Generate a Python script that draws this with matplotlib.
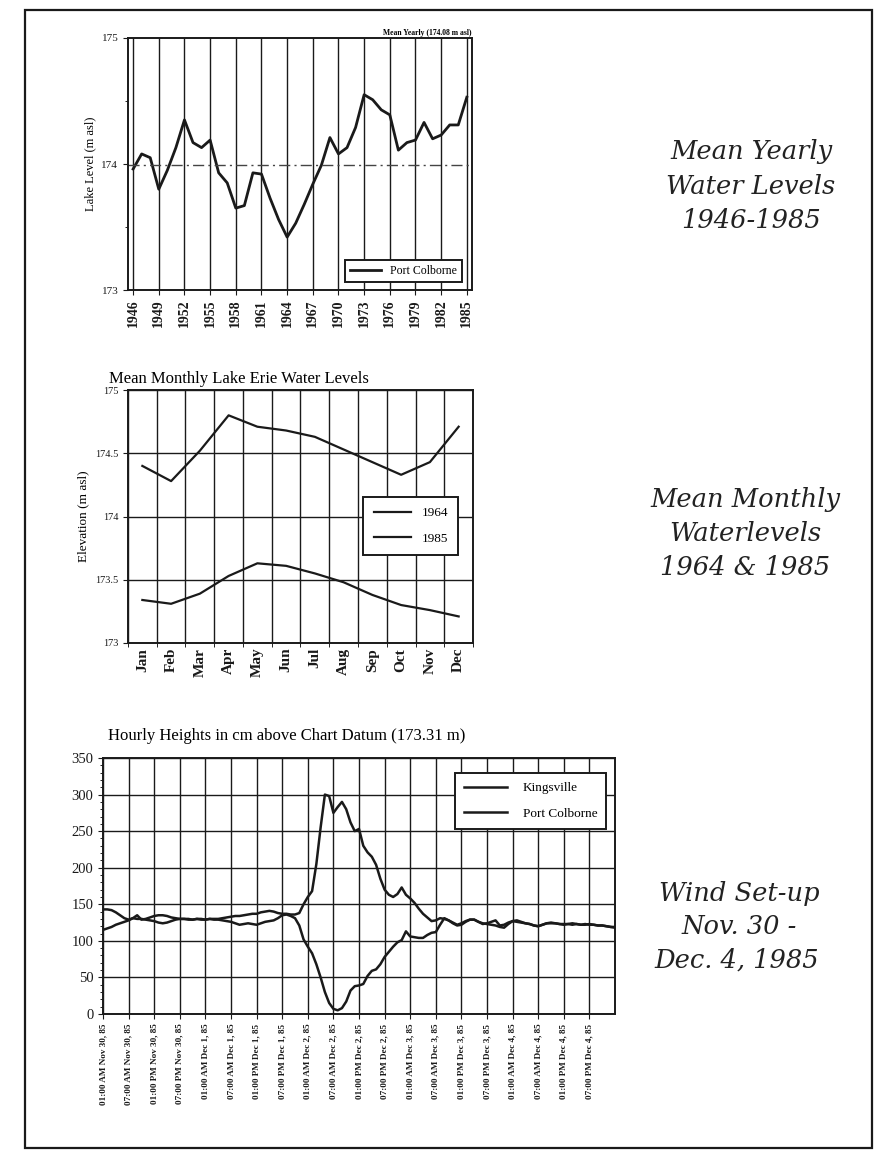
import matplotlib
matplotlib.use("Agg")
import matplotlib.pyplot as plt
from matplotlib.patches import Rectangle

plt.rcParams['font.family'] = ['Liberation Serif', 'DejaVu Serif']

# --- chart 1: mean yearly levels, Port Colborne
years = list(range(1946, 1986))
yearly = [173.96, 174.08, 174.05, 173.80, 173.95, 174.13, 174.35, 174.17, 174.13, 174.19,
          173.93, 173.85, 173.65, 173.67, 173.93, 173.92, 173.73, 173.56, 173.42, 173.53,
          173.68, 173.84, 173.99, 174.21, 174.08, 174.13, 174.29, 174.55, 174.51, 174.43,
          174.39, 174.11, 174.17, 174.19, 174.33, 174.20, 174.23, 174.31, 174.31, 174.53]
yearly_mean = 173.99

# --- chart 2: mean monthly levels
months = ["Jan", "Feb", "Mar", "Apr", "May", "Jun", "Jul", "Aug", "Sep", "Oct", "Nov", "Dec"]
monthly_1964 = [173.34, 173.31, 173.39, 173.53, 173.63, 173.61, 173.55, 173.48, 173.38, 173.30, 173.26, 173.21]
monthly_1985 = [174.40, 174.28, 174.52, 174.80, 174.71, 174.68, 174.63, 174.53, 174.43, 174.33, 174.43, 174.71]

# --- chart 3: hourly heights (cm above chart datum), hour 0 = 01:00 AM Nov 30
port_colborne = [143, 143, 142, 139, 135, 131, 129, 131, 135, 129,
                 130, 132, 134, 135, 135, 134, 132, 131, 130, 130,
                 130, 129, 130, 130, 129, 130, 130, 130, 131, 132,
                 133, 134, 134, 135, 136, 137, 137, 139, 140, 141,
                 140, 138, 137, 137, 136, 136, 138, 150, 160, 168,
                 205, 255, 300, 298, 275, 283, 290, 280, 262, 250,
                 253, 230, 221, 215, 204, 185, 170, 163, 160, 164,
                 173, 163, 158, 152, 144, 137, 132, 127, 128, 131,
                 130, 128, 124, 121, 122, 126, 129, 129, 126, 124,
                 123, 122, 121, 119, 118, 123, 127, 128, 126, 124,
                 123, 121, 120, 122, 124, 124, 124, 123, 123, 123,
                 122, 123, 122, 123, 122, 122, 121, 121, 120, 119, 118]
kingsville = [115, 117, 119, 122, 124, 126, 128, 131, 130, 130,
              129, 128, 127, 125, 124, 125, 127, 129, 130, 130,
              129, 129, 130, 129, 129, 130, 129, 129, 128, 127,
              126, 124, 122, 123, 124, 123, 122, 124, 126, 127,
              128, 131, 135, 136, 134, 131, 121, 102, 92, 83,
              68, 50, 30, 15, 7, 5, 8, 17, 32, 38,
              39, 41, 52, 59, 61, 68, 78, 85, 92, 98,
              101, 113, 106, 105, 104, 104, 108, 111, 112, 122,
              131, 128, 125, 122, 124, 127, 129, 129, 126, 123,
              124, 126, 128, 121, 122, 125, 127, 126, 125, 124,
              123, 121, 120, 122, 124, 125, 124, 123, 122, 123,
              124, 123, 122, 122, 123, 122, 121, 121, 120, 119, 119]
hours = list(range(len(port_colborne)))
days = ["Nov 30", "Dec 1", "Dec 2", "Dec 3", "Dec 4"]
times = ["01:00 AM", "07:00 AM", "01:00 PM", "07:00 PM"]
hour_labels = [t + " " + d + ", 85" for d in days for t in times]

ink = "#1a1a1a"
fig = plt.figure(figsize=(8.82, 11.55), dpi=100)

# page border of the scanned sheet
fig.patches.append(Rectangle((25 / 882, 1 - 1148 / 1155), 847 / 882, 1138 / 1155,
                             transform=fig.transFigure, fill=False, lw=1.6, ec=ink))

# ---------------- chart 1
ax1 = fig.add_axes([0.1451, 0.7489, 0.3900, 0.2182])
ax1.plot(years, yearly, color=ink, lw=2.0, label="Port Colborne")
ax1.axhline(yearly_mean, color="#444444", lw=1.0, ls=(0, (8, 3, 1.5, 3)))
ax1.set_xlim(1945.4, 1985.6)
ax1.set_ylim(173, 175)
ax1.set_xticks(years[::3])
ax1.set_xticklabels([str(y) for y in years[::3]], rotation=90, fontsize=10, fontweight="bold")
ax1.set_yticks([173, 174, 175])
ax1.set_yticklabels(["173", "174", "175"], fontsize=8)
ax1.set_yticks([173.5, 174.5], minor=True)
ax1.tick_params(axis="y", which="minor", length=2)
ax1.grid(axis="x", color=ink, lw=1.0)
ax1.set_ylabel("Lake Level (m asl)", fontsize=9, labelpad=4)
ax1.text(1.0, 1.004, "Mean Yearly (174.08 m asl)", transform=ax1.transAxes,
         ha="right", va="bottom", fontsize=5.5, fontweight="bold")
leg1 = ax1.legend(loc="lower right", bbox_to_anchor=(0.988, 0.01), fontsize=8.5,
                  frameon=True, fancybox=False, edgecolor=ink, framealpha=1,
                  handlelength=2.6, borderpad=0.4)
leg1.get_frame().set_linewidth(1.4)

# ---------------- chart 2
ax2 = fig.add_axes([0.1451, 0.4433, 0.3912, 0.2190])
mx = list(range(len(months)))
ax2.plot(mx, monthly_1964, color=ink, lw=1.6, label="1964")
ax2.plot(mx, monthly_1985, color=ink, lw=1.6, label="1985")
ax2.set_xlim(-0.5, 11.5)
ax2.set_ylim(173, 175)
ax2.set_xticks(mx)
ax2.set_xticklabels(months, rotation=90, fontsize=11, fontweight="bold")
ax2.tick_params(axis="x", which="major", length=0)
ax2.set_xticks([m - 0.5 for m in mx] + [11.5], minor=True)
ax2.tick_params(axis="x", which="minor", length=3)
ax2.grid(axis="x", which="minor", color=ink, lw=1.0)
ax2.set_yticks([173, 173.5, 174, 174.5, 175])
ax2.set_yticklabels(["173", "173.5", "174", "174.5", "175"], fontsize=7.5)
ax2.grid(axis="y", color=ink, lw=1.0)
ax2.set_ylabel("Elevation (m asl)", fontsize=9.5, labelpad=4)
ax2.text(-0.055, 1.012, "Mean Monthly Lake Erie Water Levels", transform=ax2.transAxes,
         ha="left", va="bottom", fontsize=12)
leg2 = ax2.legend(loc="upper right", bbox_to_anchor=(0.977, 0.605), fontsize=9.5,
                  frameon=True, fancybox=False, edgecolor=ink, framealpha=1,
                  handlelength=2.8, labelspacing=1.0, borderpad=0.8)
leg2.get_frame().set_linewidth(1.4)

# ---------------- chart 3
ax3 = fig.add_axes([0.1168, 0.1221, 0.5805, 0.2216])
ax3.plot(hours, kingsville, color=ink, lw=1.8, label="Kingsville")
ax3.plot(hours, port_colborne, color=ink, lw=1.8, label="Port Colborne")
ax3.set_xlim(0, 120)
ax3.set_ylim(0, 350)
ax3.set_xticks(list(range(0, 120, 6)))
ax3.set_xticklabels(hour_labels, rotation=90, fontsize=6.6, fontweight="bold")
ax3.set_yticks(list(range(0, 351, 50)))
ax3.set_yticklabels([str(v) for v in range(0, 351, 50)], fontsize=10.5)
ax3.set_yticks(list(range(0, 351, 10)), minor=True)
ax3.tick_params(axis="y", which="minor", length=2)
ax3.grid(axis="both", which="major", color=ink, lw=1.0)
ax3.text(0.01, 1.055, "Hourly Heights in cm above Chart Datum (173.31 m)", transform=ax3.transAxes,
         ha="left", va="bottom", fontsize=12)
leg3 = ax3.legend(loc="upper right", bbox_to_anchor=(0.996, 0.968), fontsize=9.5,
                  frameon=True, fancybox=False, edgecolor=ink, framealpha=1,
                  handlelength=3.2, labelspacing=1.0, borderpad=0.7, handletextpad=1.2)
leg3.get_frame().set_linewidth(1.4)

for ax in (ax1, ax2, ax3):
    for s in ax.spines.values():
        s.set_linewidth(1.4)
        s.set_color(ink)
    ax.tick_params(colors=ink)

# ---------------- side captions
cap = dict(ha="center", va="center", fontsize=18.5, style="italic", family="DejaVu Serif", color="#222222")
fig.text(751 / 882, 1 - 152 / 1155, "Mean Yearly", **cap)
fig.text(751 / 882, 1 - 187 / 1155, "Water Levels", **cap)
fig.text(751 / 882, 1 - 221 / 1155, "1946-1985", **cap)
fig.text(745 / 882, 1 - 500 / 1155, "Mean Monthly", **cap)
fig.text(745 / 882, 1 - 534 / 1155, "Waterlevels", **cap)
fig.text(745 / 882, 1 - 567 / 1155, "1964 & 1985", **cap)
fig.text(739 / 882, 1 - 893 / 1155, "Wind Set-up", **cap)
fig.text(739 / 882, 1 - 927 / 1155, "Nov. 30 -", **cap)
fig.text(737 / 882, 1 - 960 / 1155, "Dec. 4, 1985", **cap)

fig.savefig("out.png", dpi=100)
